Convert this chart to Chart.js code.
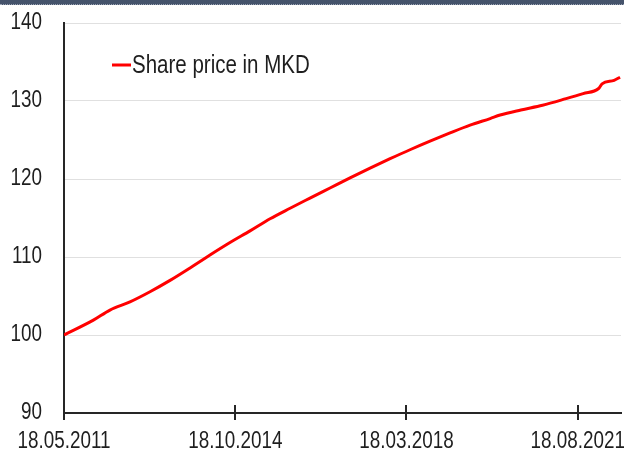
<!DOCTYPE html>
<html>
<head>
<meta charset="utf-8">
<script src="https://cdn.jsdelivr.net/npm/chart.js@4"></script>
<style>
  html, body { margin: 0; padding: 0; background: #fff; }
  #wrap { position: relative; width: 624px; height: 451px; }
  #band { position: absolute; left: 0; top: 0; width: 624px; height: 4px; background: #45536b; border-bottom: 1px dotted #9aa3b4; }
</style>
</head>
<body>
<div id="wrap">
  <canvas id="chart" width="624" height="451"></canvas>
  <div id="band"></div>
</div>
<script>
const FONT = "'Liberation Sans', Arial, sans-serif";
const NARROW = 0.82; // the original uses a narrow face, so squeeze text horizontally

// dates of the readings (dd.mm.yyyy) and share price in MKD
const dates = [
  '18.05.2011', '18.12.2011', '17.04.2012', '10.09.2012', '03.02.2013',
  '29.06.2013', '22.11.2013', '16.04.2014', '09.09.2014', '02.02.2015',
  '28.06.2015', '21.11.2015', '14.04.2016', '07.09.2016', '31.01.2017',
  '26.06.2017', '19.11.2017', '13.04.2018', '06.09.2018', '30.01.2019',
  '25.06.2019', '18.11.2019', '30.01.2020', '29.06.2020', '04.12.2020',
  '25.05.2021', '26.09.2021', '17.01.2022', '11.02.2022', '10.05.2022',
  '22.06.2022'
];
const prices = [
  100.0, 101.9, 103.2, 104.25, 105.55,
  107.0, 108.6, 110.25, 111.85, 113.35,
  114.9, 116.25, 117.55, 118.85, 120.15,
  121.4, 122.6, 123.75, 124.85, 125.9,
  126.9, 127.75, 128.2, 128.85, 129.45,
  130.3, 130.95, 131.6, 132.2, 132.65,
  133.05
];
const tickDates = ['18.05.2011', '18.10.2014', '18.03.2018', '18.08.2021'];
const yTicks = [90, 100, 110, 120, 130, 140];
const seriesLabel = 'Share price in MKD';

function parseDate(s) {
  const [d, m, y] = s.split('.').map(Number);
  return Date.UTC(y, m - 1, d);
}
const DAY = 86400000;
const t0 = parseDate(dates[0]);
function toDay(s) { return Math.round((parseDate(s) - t0) / DAY); }
function fmtDay(n) {
  const dt = new Date(t0 + n * DAY);
  const p = v => String(v).padStart(2, '0');
  return p(dt.getUTCDate()) + '.' + p(dt.getUTCMonth() + 1) + '.' + dt.getUTCFullYear();
}

// squeeze all text drawn on this chart's canvas
const narrowText = {
  id: 'narrowText',
  beforeInit(chart) {
    const ctx = chart.ctx;
    const orig = ctx.fillText.bind(ctx);
    ctx.fillText = (t, x, y, mw) => {
      ctx.save();
      ctx.translate(x, y);
      ctx.scale(NARROW, 1);
      if (mw === undefined) orig(t, 0, 0);
      else orig(t, 0, 0, mw / NARROW);
      ctx.restore();
    };
  }
};

// crossing tick marks on the x axis + legend drawn inside the plot
const extras = {
  id: 'extras',
  afterDraw(chart) {
    const ctx = chart.ctx;
    const xs = chart.scales.x;
    const y0 = chart.chartArea.bottom;
    ctx.save();
    ctx.strokeStyle = '#262626';
    ctx.lineWidth = 2;
    xs.ticks.forEach(t => {
      const px = Math.round(xs.getPixelForValue(t.value));
      ctx.beginPath();
      ctx.moveTo(px, y0 - 8);
      ctx.lineTo(px, y0 + 7);
      ctx.stroke();
    });
    // legend
    const ds = chart.data.datasets[0];
    ctx.strokeStyle = ds.borderColor;
    ctx.lineWidth = 3;
    ctx.beginPath();
    ctx.moveTo(112, 65);
    ctx.lineTo(131, 65);
    ctx.stroke();
    ctx.fillStyle = '#1e1e1e';
    ctx.font = '25px ' + FONT;
    ctx.textBaseline = 'middle';
    ctx.textAlign = 'left';
    ctx.fillText(ds.label, 132, 66);
    ctx.restore();
  }
};

new Chart(document.getElementById('chart'), {
  type: 'line',
  data: {
    datasets: [{
      label: seriesLabel,
      data: dates.map((d, i) => ({ x: toDay(d), y: prices[i] })),
      borderColor: '#ff0000',
      borderWidth: 3,
      pointRadius: 0,
      cubicInterpolationMode: 'monotone',
      fill: false
    }]
  },
  options: {
    responsive: false,
    animation: false,
    layout: { padding: { top: 23, right: 3, bottom: 0, left: 0 } },
    plugins: { legend: { display: false }, tooltip: { enabled: false } },
    scales: {
      x: {
        type: 'linear',
        min: 0,
        max: 4060,
        afterBuildTicks: s => { s.ticks = tickDates.map(d => ({ value: toDay(d) })); },
        afterFit: s => { s.height = 38; s.paddingLeft = 0; s.paddingRight = 0; },
        grid: { drawOnChartArea: false, drawTicks: false },
        border: { color: '#262626', width: 2 },
        ticks: {
          color: '#1e1e1e',
          font: { family: FONT, size: 23 },
          padding: 15,
          maxRotation: 0,
          autoSkip: false,
          callback: v => fmtDay(v)
        }
      },
      y: {
        min: 90,
        max: 140,
        afterBuildTicks: s => { s.ticks = yTicks.map(v => ({ value: v })); },
        afterFit: s => { s.width = 64; s.paddingTop = 0; s.paddingBottom = 0; },
        grid: { color: '#e0e0e0', lineWidth: 1, drawTicks: false },
        border: { color: '#262626', width: 2 },
        ticks: {
          color: '#1e1e1e',
          font: { family: FONT, size: 23 },
          padding: 22
        }
      }
    }
  },
  plugins: [narrowText, extras]
});
</script>
</body>
</html>
